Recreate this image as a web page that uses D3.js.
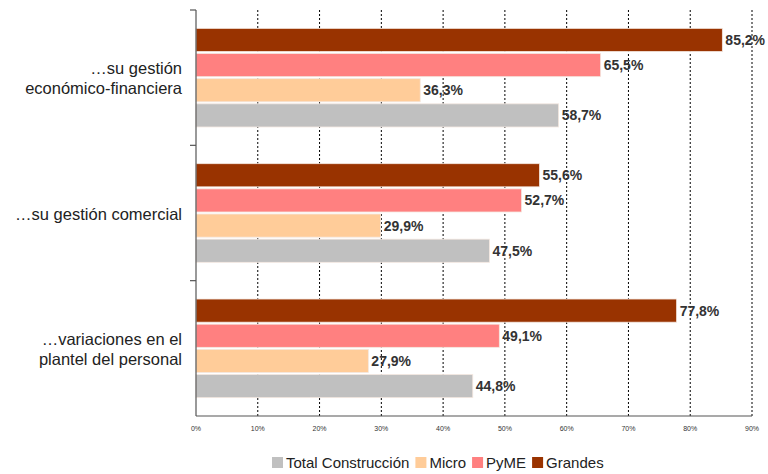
<!DOCTYPE html>
<html>
<head>
<meta charset="utf-8">
<script src="https://cdn.jsdelivr.net/npm/d3@7"></script>
<style>
  body { margin: 0; background: #fff; }
  svg { display: block; font-family: "Liberation Sans", Arial, sans-serif; }
</style>
</head>
<body>
<svg id="chart" width="768" height="474"></svg>
<script>
// Categories (top to bottom) and series (top to bottom within each group)
const categories = [
  ["…su gestión", "económico-financiera"],
  ["…su gestión comercial"],
  ["…variaciones en el", "plantel del personal"]
];
const seriesNames = ["Grandes", "PyME", "Micro", "Total Construcción"];
const legendOrder = ["Total Construcción", "Micro", "PyME", "Grandes"];
const seriesColors = ["#993300", "#FF8080", "#FFCC99", "#C0C0C0"];

const grandes = [85.2, 55.6, 77.8];
const pyme    = [65.5, 52.7, 49.1];
const micro   = [36.3, 29.9, 27.9];
const total   = [58.7, 47.5, 44.8];
const seriesValues = [grandes, pyme, micro, total];

const xTicks = [0, 10, 20, 30, 40, 50, 60, 70, 80, 90];

const svg = d3.select("#chart");
const m = { left: 196, right: 16, top: 10, bottom: 58 };
const W = 768, H = 474;

const x = d3.scaleLinear().domain([0, 90]).range([m.left, W - m.right]);
const y0 = d3.scaleBand().domain(d3.range(categories.length)).range([m.top, H - m.bottom]);
const y1 = d3.scaleBand().domain(d3.range(seriesNames.length))
  .range([0, y0.bandwidth()]).paddingOuter(0.69).paddingInner(0);

// dotted vertical gridlines
svg.append("g").selectAll("line").data(xTicks.slice(1)).join("line")
  .attr("x1", d => x(d)).attr("x2", d => x(d))
  .attr("y1", m.top).attr("y2", H - m.bottom)
  .attr("stroke", "#000").attr("stroke-width", 1)
  .attr("stroke-dasharray", "2,2");

// bars
const rows = [];
categories.forEach((c, ci) => seriesValues.forEach((vals, si) => rows.push({ ci, si, v: vals[ci] })));

const bars = svg.append("g");
bars.selectAll("rect").data(rows).join("rect")
  .attr("x", x(0))
  .attr("y", d => y0(d.ci) + y1(d.si) + 1)
  .attr("width", d => x(d.v) - x(0))
  .attr("height", y1.bandwidth() - 2)
  .attr("fill", d => seriesColors[d.si])
  .attr("stroke", "#f4e8e0").attr("stroke-width", 0.8);

// value labels
bars.selectAll("text").data(rows).join("text")
  .attr("x", d => x(d.v) + 3)
  .attr("y", d => y0(d.ci) + y1(d.si) + y1.bandwidth() / 2)
  .attr("dy", "0.36em")
  .attr("font-size", 14).attr("font-weight", "bold").attr("fill", "#333")
  .text(d => d.v.toFixed(1).replace(".", ",") + "%");

// y axis line with category separators
const axisG = svg.append("g").attr("stroke", "#555").attr("stroke-width", 1.2);
axisG.append("line").attr("x1", x(0)).attr("x2", x(0)).attr("y1", m.top).attr("y2", H - m.bottom);
axisG.selectAll("line.sep").data(d3.range(categories.length)).join("line").attr("class", "sep")
  .attr("x1", x(0) - 6).attr("x2", x(0)).attr("y1", d => y0(d)).attr("y2", d => y0(d));
// bottom axis line
axisG.append("line").attr("x1", x(0)).attr("x2", x(90)).attr("y1", H - m.bottom).attr("y2", H - m.bottom);

// x tick labels
svg.append("g").selectAll("text").data(xTicks).join("text")
  .attr("x", d => x(d)).attr("y", H - m.bottom + 15)
  .attr("text-anchor", "middle").attr("font-size", 7).attr("fill", "#333")
  .text(d => d + "%");

// category labels
const catG = svg.append("g");
categories.forEach((lines, ci) => {
  const cy = y0(ci) + y0.bandwidth() / 2 + 1;
  const lh = 20;
  const t = catG.append("text").attr("text-anchor", "end").attr("font-size", 16.5).attr("fill", "#222");
  lines.forEach((ln, li) => {
    t.append("tspan").attr("x", x(0) - 14)
      .attr("y", cy + (li - (lines.length - 1) / 2) * lh)
      .attr("dy", "0.35em").text(ln);
  });
});

// legend
const legend = svg.append("g");
let lx = 272;
const ly = 463;
legendOrder.forEach(name => {
  const si = seriesNames.indexOf(name);
  legend.append("rect").attr("x", lx).attr("y", ly - 6).attr("width", 11).attr("height", 11)
    .attr("fill", seriesColors[si]);
  const t = legend.append("text").attr("x", lx + 14).attr("y", ly).attr("dy", "0.36em")
    .attr("font-size", 15).attr("fill", "#222").text(name);
  lx += 14 + t.node().getComputedTextLength() + 6;
});
</script>
</body>
</html>
